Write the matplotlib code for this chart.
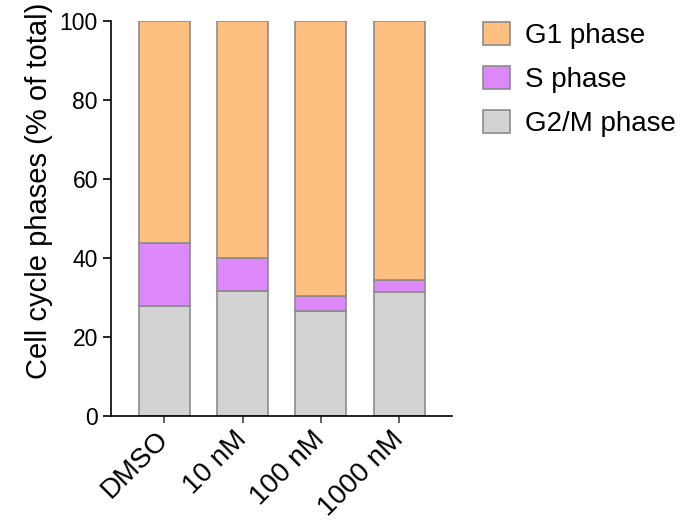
import matplotlib
matplotlib.use("Agg")
import matplotlib.pyplot as plt
import numpy as np

plt.rcParams['font.family'] = ['Liberation Sans', 'DejaVu Sans']

categories = ["DMSO", "10 nM", "100 nM", "1000 nM"]
g2m = [27.7, 31.6, 26.4, 31.3]
s_phase = [15.9, 8.4, 4.0, 3.1]
g1 = [100 - a - b for a, b in zip(g2m, s_phase)]
series_names = ["G1 phase", "S phase", "G2/M phase"]
colors = {"G1 phase": "#FFBF80", "S phase": "#DD88F8", "G2/M phase": "#D3D3D3"}

fig = plt.figure(figsize=(6.82, 5.24), dpi=100)
ax = fig.add_axes([0.163, 0.2067, 0.5, 0.754])

x = np.arange(len(categories))
w = 0.65
ec = "#8c8c8c"
lw = 1.2
b1 = ax.bar(x, g2m, w, color=colors["G2/M phase"], edgecolor=ec, linewidth=lw, label="G2/M phase")
b2 = ax.bar(x, s_phase, w, bottom=g2m, color=colors["S phase"], edgecolor=ec, linewidth=lw, label="S phase")
bottom2 = [a + b for a, b in zip(g2m, s_phase)]
b3 = ax.bar(x, g1, w, bottom=bottom2, color=colors["G1 phase"], edgecolor=ec, linewidth=lw, label="G1 phase")

ax.set_xlim(-0.677, 3.677)
ax.set_ylim(0, 100)
ax.set_yticks([0, 20, 40, 60, 80, 100])
ax.set_xticks(x)
ax.set_xticklabels(categories, rotation=45, ha="right", va="center", rotation_mode="anchor", fontsize=20)
ax.tick_params(axis="y", labelsize=16.5, length=6, width=1.2, pad=3.5)
ax.tick_params(axis="x", length=5, width=1.3, pad=9, color="#555555")
ax.spines["top"].set_visible(False)
ax.spines["right"].set_visible(False)
for sp in ["left", "bottom"]:
    ax.spines[sp].set_linewidth(1.2)
ax.set_ylabel("Cell cycle phases (% of total)", fontsize=21)
ax.yaxis.set_label_coords(-0.172, 0.568)

ax.legend(handles=[b3, b2, b1], labels=series_names, loc="upper left",
          bbox_to_anchor=(483 / 682, 1 - 22 / 524), bbox_transform=fig.transFigure,
          frameon=False, fontsize=20, borderpad=0, borderaxespad=0,
          handlelength=0.97, handleheight=0.9, labelspacing=0.6, handletextpad=0.54)

fig.savefig("out.png", dpi=100)
